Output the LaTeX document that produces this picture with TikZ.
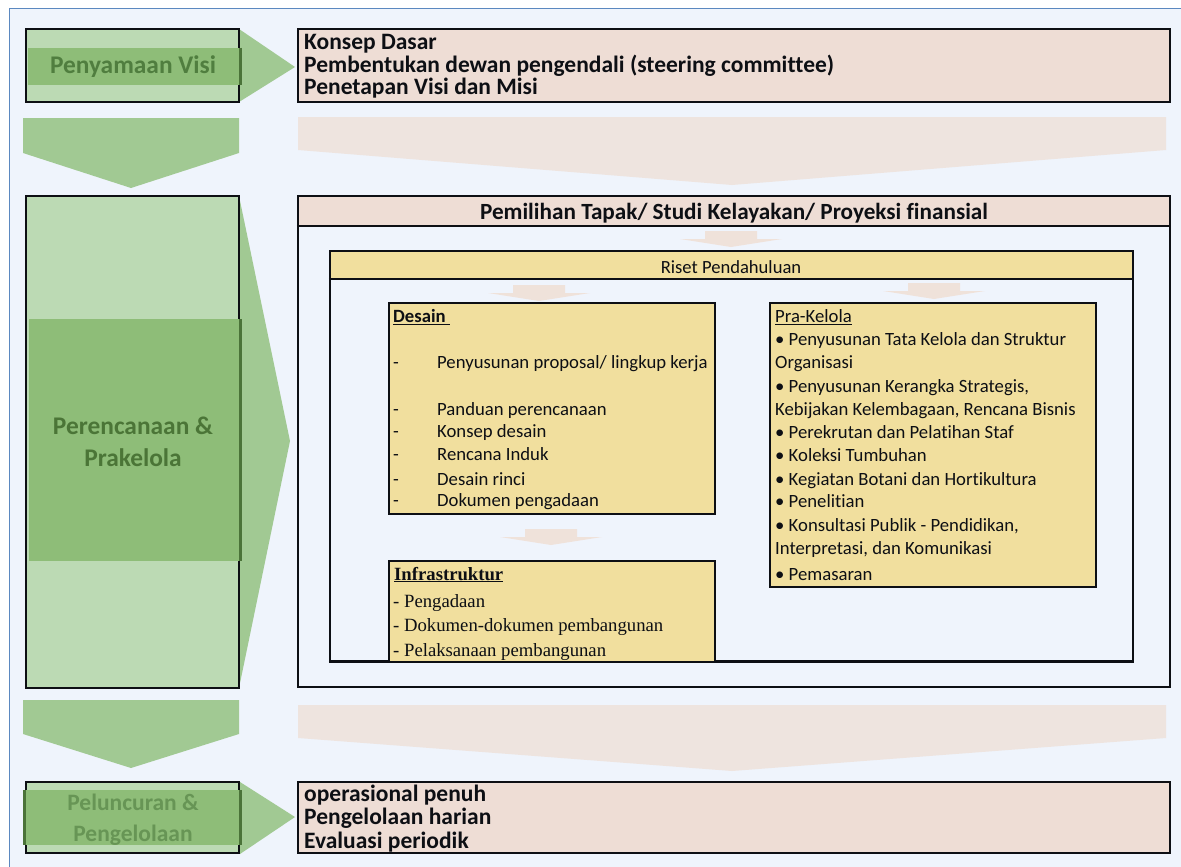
\documentclass[tikz,border=0pt]{standalone}
\usepackage{fontspec}
\setmainfont{Carlito}[Ligatures=NoCommon]
\newfontfamily\tnrfont{Liberation Serif}
\usetikzlibrary{fit}
\definecolor{bgc}{HTML}{EFF4FC}
\definecolor{bgline}{HTML}{5B88C0}
\definecolor{lgreen}{HTML}{BCDAB4}
\definecolor{dgreen}{HTML}{8EBD78}
\definecolor{chgreen}{HTML}{A1C993}
\definecolor{edgegreen}{HTML}{4B7339}
\definecolor{pvtext}{HTML}{507E3F}
\definecolor{pertext}{HTML}{4B7537}
\definecolor{peltext}{HTML}{679555}
\definecolor{pinkbox}{HTML}{EEDDD5}
\definecolor{pinkch}{HTML}{EEE4DF}
\definecolor{pinkarr}{HTML}{EFE2DA}
\definecolor{ybox}{HTML}{F1DF9E}
\definecolor{ink}{HTML}{0D0F14}
\newcommand\blkarrow[2]{%
  \fill[pinkarr] (#1-26,#2) -- (#1+26,#2) -- (#1+26,#2+8) -- (#1+51,#2+8) -- (#1,#2+16) -- (#1-51,#2+8) -- (#1-26,#2+8) -- cycle;}
\newcommand\bul{\textbullet}
\begin{document}
\begin{tikzpicture}[x=1pt,y=-1pt,
  frame/.style={draw=ink, line width=2.6pt, inner sep=0pt},
  thinframe/.style={draw=ink, line width=2.3pt, inner sep=0pt},
  pinktxt/.style={font=\fontsize{23.5}{26}\selectfont\bfseries, text=ink, anchor=base west, inner sep=0pt},
  lbl/.style={font=\fontsize{18.7}{21}\selectfont, text=ink, anchor=base west, inner sep=0pt},
  serlbl/.style={font=\tnrfont\fontsize{18.7}{21}\selectfont, text=ink, anchor=base west, inner sep=0pt}]
\useasboundingbox (0,0) rectangle (1181,867);
% background
\fill[bgc] (9.5,8) rectangle (1181,867);
\draw[bgline, line width=0.8pt] (9.5,867) -- (9.5,8) -- (1181,8);

% chevrons
\fill[chgreen] (23,118) -- (239,118) -- (239,153) -- (131,188) -- (23,153) -- cycle;
\fill[chgreen] (23,700) -- (239,700) -- (239,734) -- (131,768) -- (23,734) -- cycle;
\fill[pinkch] (298,117) -- (1166,117) -- (1166,150) -- (732,185) -- (298,150) -- cycle;
\fill[pinkch] (298,705) -- (1166,705) -- (1166,738) -- (732,771) -- (298,738) -- cycle;

% ---- Row 1 ----
\fill[chgreen] (239,29) -- (295,67) -- (239,102) -- cycle;
\node[frame, fill=lgreen, fit={(26,29) (239,102)}] (pv) {};
\fill[dgreen] (27.5,47.7) rectangle (240.3,85);
\draw[edgegreen, line width=2.6pt] (pv.east |- 0,47.7) -- (pv.east |- 0,85);
\node[font=\fontsize{25.4}{28}\selectfont\bfseries, text=pvtext, anchor=base, inner sep=0pt] (pvt) at (133,73.7) {Penyamaan Visi};

\node[frame, fill=pinkbox, fit={(298,29) (1170,102)}] (vis) {};
\node[pinktxt] (v1) at (304,49.3) {Konsep Dasar};
\node[pinktxt] (v2) at (304,72.3) {Pembentukan dewan pengendali (steering committee)};
\node[pinktxt] (v3) at (304,95) {Penetapan Visi dan Misi};

% ---- Row 2 ----
\fill[chgreen] (239,196) -- (290,441) -- (239,688) -- cycle;
\node[frame, fill=lgreen, fit={(26,196) (239,688)}] (per) {};
\fill[dgreen] (28.7,319) rectangle (240.3,561);
\draw[edgegreen, line width=2.6pt] (per.east |- 0,319) -- (per.east |- 0,561);
\node[font=\fontsize{25.4}{28}\selectfont\bfseries, text=pertext, anchor=base, inner sep=0pt] (pert1) at (133,434) {Perencanaan \&};
\node[font=\fontsize{25.4}{28}\selectfont\bfseries, text=pertext, anchor=base, inner sep=0pt] (pert2) at (133,466) {Prakelola};

\node[thinframe, fill=bgc, fit={(298,196) (1170,687)}] (main) {};
\fill[pinkbox] (299,197) rectangle (1169,226);
\draw[ink, line width=2pt] (main.west |- 0,226) -- (main.east |- 0,226);
\node[font=\fontsize{23.2}{26}\selectfont\bfseries, text=ink, anchor=base, inner sep=0pt] (pem) at (734,219.3) {Pemilihan Tapak/ Studi Kelayakan/ Proyeksi finansial};
\blkarrow{731}{231}

\node[thinframe, fit={(330,251) (1133,661)}] (riset) {};
\fill[ybox] (331,252) rectangle (1132,279);
\draw[ink, line width=2pt] (riset.west |- 0,279) -- (riset.east |- 0,279);
\node[font=\fontsize{18.6}{21}\selectfont, text=ink, anchor=base, inner sep=0pt] (rst) at (731,273.3) {Riset Pendahuluan};
\blkarrow{539}{285}
\blkarrow{934}{283}

% Desain
\node[frame, fill=ybox, fit={(389,303) (715,514)}] (des) {};
\node[lbl] (dh) at (393,322.3) {\bfseries\underline{Desain\ }};
\foreach \yy/\tt [count=\i] in {368.7/{Penyusunan proposal/ lingkup kerja}, 415/Panduan perencanaan, 437.7/Konsep desain, 460.7/Rencana Induk, 485/Desain rinci, 506.7/Dokumen pengadaan}{
  \node[lbl] (dd\i) at (393,\yy) {-};
  \node[lbl] (dt\i) at (437,\yy) {\tt};
}
\blkarrow{551}{529}

% Infrastruktur
\fill[ybox] (389,561) rectangle (715,661);
\draw[ink, line width=2.6pt] (389,661) -- (389,561) -- (715,561) -- (715,661);
\coordinate (infra) at (552,611);
\node[serlbl] (ih) at (394,580) {\bfseries\underline{Infrastruktur}};
\node[serlbl] (i1) at (393,607.3) {- Pengadaan};
\node[serlbl] (i2) at (393,631.7) {- Dokumen-dokumen pembangunan};
\node[serlbl] (i3) at (393,656) {- Pelaksanaan pembangunan};
\draw[ink, line width=2.3pt] (riset.south west) -- (riset.south east);

% Pra-Kelola
\node[frame, fill=ybox, fit={(770,303) (1096,587)}] (pra) {};
\node[lbl] (ph) at (775,322.3) {\underline{Pra-Kelola}};
\foreach \yy/\tt [count=\i] in {345.7/\bul\ Penyusunan Tata Kelola dan Struktur, 368.3/Organisasi, 392.3/{\bul\ Penyusunan Kerangka Strategis,}, 415/{Kebijakan Kelembagaan, Rencana Bisnis}, 438.3/\bul\ Perekrutan dan Pelatihan Staf, 461/\bul\ Koleksi Tumbuhan, 485/\bul\ Kegiatan Botani dan Hortikultura, 507.3/\bul\ Penelitian, 531.7/{\bul\ Konsultasi Publik - Pendidikan,}, 554/{Interpretasi, dan Komunikasi}, 580/\bul\ Pemasaran}{
  \node[lbl] (pt\i) at (775,\yy) {\tt};
}

% ---- Row 3 ----
\fill[chgreen] (240,782) -- (295,817) -- (240,854) -- cycle;
\node[frame, fill=lgreen, fit={(26,782) (239,853)}] (pel) {};
\fill[dgreen] (24,790) rectangle (241,845);
\draw[edgegreen, line width=2.6pt] (pel.east |- 0,790) -- (pel.east |- 0,845);
\draw[edgegreen, line width=2.6pt] (pel.west |- 0,790) -- (pel.west |- 0,845);
\node[font=\fontsize{23.5}{26}\selectfont\bfseries, text=peltext, anchor=base, inner sep=0pt] (pelt1) at (133,810.7) {Peluncuran \&};
\node[font=\fontsize{23.5}{26}\selectfont\bfseries, text=peltext, anchor=base, inner sep=0pt] (pelt2) at (133,841.7) {Pengelolaan};

\node[frame, fill=pinkbox, fit={(298,782) (1170,853)}] (ops) {};
\node[pinktxt] (o1) at (304,801.7) {operasional penuh};
\node[pinktxt] (o2) at (304,824) {Pengelolaan harian};
\node[pinktxt] (o3) at (304,848.3) {Evaluasi periodik};
\end{tikzpicture}
\end{document}
